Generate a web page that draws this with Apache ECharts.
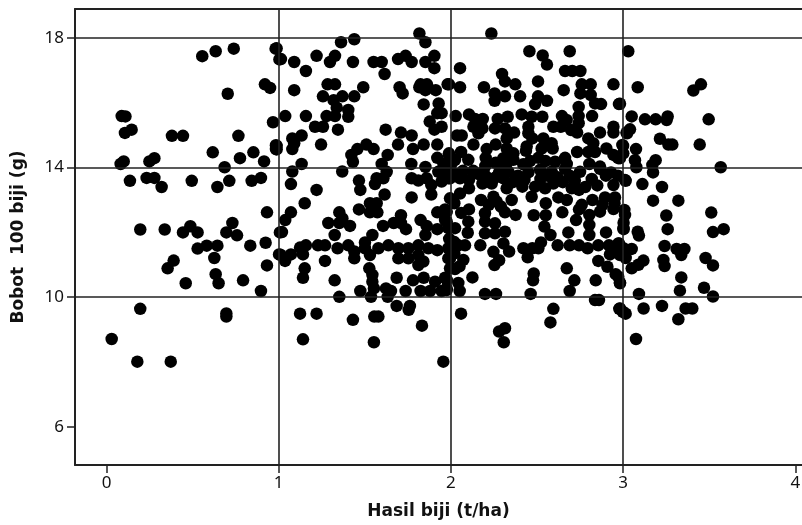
<!DOCTYPE html>
<html><head><meta charset="utf-8">
<style>html,body{margin:0;padding:0;background:#fff}#c{width:802px;height:525px}</style>
<script src="https://cdn.jsdelivr.net/npm/echarts@6/dist/echarts.min.js"></script></head>
<body><div id="c"></div>
<script>
const xTicks=[0,1,2,3,4];
const yTicks=[6,10,14,18];
const xGridValues=[1,2,3];
const yGridValues=[10,14,18];
const regionA=[[.556,17.44],[.634,17.59],[.739,17.67],[.982,17.67],[1.004,17.34],[.704,16.28],[.92,16.57],[.95,16.46],[.088,15.59],[.11,15.58],[.107,15.07],[.146,15.17],[.38,14.98],[.444,14.98],[.766,14.98],[.967,15.4],[.984,14.69],[.984,14.57],[.617,14.47],[.853,14.47],[.775,14.29],[.915,14.19],[.082,14.11],[.10,14.19],[.249,14.19],[.278,14.29],[.686,14.01]];
const regionB=[[.136,13.59],[.233,13.68],[.278,13.68],[.32,13.4],[.495,13.59],[.644,13.4],[.713,13.59],[.843,13.59],[.897,13.68],[.932,12.62],[.196,12.09],[.338,12.09],[.444,12.0],[.487,12.19],[.529,12.0],[.731,12.29],[.696,12.0],[.758,11.91],[.835,11.59],[.924,11.68],[.529,11.5],[.582,11.59],[.644,11.59],[.626,11.21],[1.01,11.31],[1.007,12.0],[.39,11.13],[.355,10.89],[.932,10.98],[.634,10.71],[.651,10.43],[.46,10.43],[.793,10.52],[.897,10.19],[.196,9.64],[.696,9.5],[.696,9.4],[.03,8.71],[.179,8.01],[.373,8.01]];
const regionC=[[1.439,17.96],[1.362,17.87],[1.817,18.14],[1.852,17.87],[.988,17.68],[1.013,17.35],[1.09,17.26],[1.22,17.45],[1.158,16.98],[1.327,17.45],[1.298,17.26],[1.431,17.26],[1.551,17.26],[1.598,17.26],[1.615,16.89],[1.693,17.35],[1.737,17.45],[1.772,17.26],[1.852,17.26],[1.904,17.45],[1.904,17.07],[1.09,16.39],[1.284,16.57],[1.327,16.57],[1.257,16.2],[1.319,16.08],[1.37,16.2],[1.439,16.2],[1.491,16.48],[1.337,15.85],[1.038,15.59],[1.158,15.59],[1.278,15.59],[1.327,15.59],[1.404,15.78],[1.404,15.57],[1.211,15.26],[1.257,15.26],[1.344,15.17],[1.621,15.17],[1.702,16.48],[1.72,16.29],[1.824,16.57],[1.861,16.57],[1.817,16.48],[1.852,16.39],[1.912,16.39],[1.981,16.57],[1.842,15.95],[1.929,15.98],[1.921,15.68],[1.946,15.68],[1.877,15.42],[1.904,15.17],[1.946,15.26],[1.71,15.08],[1.772,14.99],[1.693,14.71],[1.78,14.57],[1.842,14.71],[1.921,14.71],[1.921,14.3],[1.989,14.44],[1.133,14.99],[1.079,14.9],[1.09,14.75],[1.079,14.57],[.988,14.67],[.988,14.56],[1.246,14.71],[1.457,14.57],[1.509,14.71],[1.551,14.57],[1.422,14.39],[1.431,14.18],[1.633,14.39],[1.598,14.11],[1.77,14.11],[1.852,14.02],[1.133,14.11],[1.369,13.88],[1.079,13.88],[1.956,14.13],[2.004,14.13]];
const regionD=[[1.071,13.49],[1.22,13.31],[1.466,13.6],[1.474,13.31],[1.569,13.67],[1.559,13.49],[1.627,13.87],[1.608,13.67],[1.615,13.17],[1.772,13.08],[1.772,13.67],[1.811,13.6],[1.859,13.67],[1.886,13.46],[1.886,13.17],[1.946,13.57],[1.985,13.67],[1.927,13.87],[1.966,13.87],[1.151,12.9],[1.071,12.62],[1.038,12.38],[1.019,12.01],[1.352,12.62],[1.37,12.43],[1.288,12.29],[1.352,12.29],[1.414,12.2],[1.325,11.92],[1.466,12.71],[1.53,12.9],[1.569,12.9],[1.53,12.62],[1.573,12.62],[1.606,12.2],[1.668,12.29],[1.71,12.53],[1.71,12.29],[1.739,12.1],[1.824,12.38],[1.859,12.2],[1.852,11.92],[1.921,12.62],[1.966,12.71],[1.921,12.1],[1.966,12.38],[1.985,12.13],[1.544,11.92],[1.501,11.69],[1.002,11.32],[1.037,11.12],[1.071,11.32],[1.124,11.53],[1.158,11.6],[1.141,11.32],[1.151,10.89],[1.141,10.6],[1.228,11.6],[1.269,11.6],[1.269,11.12],[1.342,11.51],[1.404,11.6],[1.439,11.41],[1.439,11.2],[1.501,11.51],[1.53,11.3],[1.526,10.89],[1.544,10.69],[1.544,10.48],[1.553,10.27],[1.579,11.51],[1.637,11.6],[1.695,11.51],[1.753,11.51],[1.811,11.6],[1.869,11.51],[1.921,11.45],[1.985,11.51],[1.695,11.2],[1.753,11.2],[1.811,11.3],[1.84,11.1],[1.811,10.99],[1.985,11.2],[1.995,10.89],[1.325,10.52],[1.685,10.6],[1.78,10.52],[1.842,10.6],[1.966,10.6],[1.908,10.48],[1.474,10.19],[1.352,10.01],[1.536,10.01],[1.623,10.27],[1.652,10.19],[1.633,10.01],[1.737,10.19],[1.824,10.19],[1.879,10.19],[1.946,10.19],[1.975,10.27],[1.685,9.73],[1.762,9.73],[1.755,9.61],[1.124,9.49],[1.22,9.49],[1.431,9.3],[1.555,9.4],[1.579,9.4],[1.832,9.12],[1.141,8.7],[1.553,8.61],[1.956,8.01]];
const regionE=[[2.235,18.14],[2.456,17.59],[2.533,17.46],[2.558,17.18],[2.69,17.59],[2.663,16.98],[2.705,16.98],[2.752,16.98],[2.053,17.07],[1.989,16.57],[2.053,16.48],[2.192,16.48],[2.297,16.89],[2.314,16.66],[2.374,16.57],[2.254,16.29],[2.314,16.2],[2.254,16.06],[2.402,16.2],[2.506,16.66],[2.506,16.2],[2.489,15.96],[2.558,16.06],[2.655,16.39],[2.76,16.57],[2.812,16.57],[2.752,16.29],[2.812,16.24],[2.837,15.98],[2.872,15.96],[2.944,16.57],[2.976,15.96],[2.742,15.87],[2.742,15.59],[2.82,15.59],[2.742,15.37],[2.698,15.16],[2.733,15.08],[2.645,15.59],[2.672,15.47],[2.595,15.26],[2.638,15.26],[2.944,15.26],[2.944,15.08],[3.02,15.08],[2.028,15.59],[2.105,15.64],[2.14,15.5],[2.185,15.5],[2.131,15.26],[2.183,15.21],[2.16,15.06],[2.272,15.5],[2.33,15.57],[2.411,15.64],[2.469,15.57],[2.531,15.57],[2.256,15.21],[2.314,15.21],[2.367,15.08],[2.45,15.26],[2.45,15.06],[2.473,14.9],[2.537,14.9],[2.585,14.75],[2.591,14.59],[2.527,14.59],[2.508,14.3],[2.44,14.65],[2.436,14.52],[2.324,14.9],[2.26,14.71],[2.208,14.57],[2.202,14.3],[2.131,14.71],[2.036,14.99],[2.063,14.99],[1.989,14.39],[2.059,14.48],[2.101,14.24],[2.024,14.24],[2.324,14.59],[2.363,14.44],[2.305,14.29],[2.363,14.24],[2.324,14.13],[2.798,14.9],[2.866,15.08],[2.827,14.75],[2.733,14.48],[2.798,14.48],[2.837,14.48],[2.903,14.59],[2.944,14.39],[2.982,14.29],[3.0,14.67],[2.804,14.11],[2.866,14.03],[2.663,14.3],[2.605,14.18],[2.673,14.11],[2.518,13.93]];
const regionF=[[1.995,13.67],[2.053,13.67],[2.105,13.62],[2.053,13.2],[2.105,13.36],[2.175,13.0],[2.189,13.87],[2.183,13.51],[2.237,13.51],[2.334,13.87],[2.305,13.67],[2.324,13.36],[2.353,13.0],[2.247,13.1],[2.266,12.95],[2.427,13.62],[2.415,13.41],[2.469,13.1],[2.489,13.41],[2.547,13.36],[2.585,13.87],[2.595,13.51],[2.663,13.96],[2.624,13.08],[2.673,13.0],[2.702,13.36],[2.744,13.31],[2.75,13.87],[2.818,13.65],[2.866,13.96],[2.944,13.46],[2.895,13.08],[2.953,13.08],[2.822,13.0],[3.011,13.62],[2.551,12.9],[2.481,12.53],[2.551,12.53],[2.647,12.62],[2.744,12.71],[2.727,12.38],[2.105,12.71],[2.198,12.59],[2.314,12.62],[2.376,12.54],[2.198,12.33],[2.256,12.28],[2.198,11.97],[2.256,11.97],[2.314,12.02],[2.101,12.33],[2.098,11.99],[2.024,12.13],[1.976,12.64],[1.976,12.33],[2.543,12.18],[2.578,11.92],[2.682,12.0],[2.804,12.54],[2.866,12.64],[2.944,12.72],[2.804,12.23],[2.804,11.92],[2.901,12.0],[3.011,12.54],[3.002,12.13],[2.523,11.69],[2.62,11.6],[2.69,11.6],[2.744,11.6],[2.794,11.51],[2.856,11.6],[2.918,11.6],[2.973,11.66],[3.002,11.51],[2.924,11.32],[2.982,11.3],[2.421,11.51],[2.473,11.51],[2.508,11.51],[2.446,11.23],[2.171,11.6],[2.247,11.4],[2.305,11.66],[2.338,11.41],[2.082,11.6],[2.043,11.6],[1.995,11.51],[2.072,11.15],[1.995,11.2],[2.28,11.14],[2.253,10.99],[2.024,10.87],[2.856,11.12],[2.909,10.94],[2.957,10.71],[2.982,10.45],[2.673,10.89],[2.717,10.52],[2.841,10.52],[2.481,10.73],[2.477,10.52],[2.125,10.61],[2.043,10.44],[2.051,10.19],[1.976,10.53],[1.976,10.22],[2.198,10.1],[2.262,10.1],[2.463,10.1],[2.69,10.19],[2.837,9.91],[2.86,9.91],[2.978,9.64],[2.998,9.55],[2.595,9.64],[2.578,9.22],[2.059,9.49],[2.28,8.94],[2.314,9.04],[2.307,8.61]];
const regionG=[[3.03,17.59],[3.085,16.48],[3.452,16.57],[3.408,16.38],[2.982,15.97],[3.05,15.58],[3.127,15.49],[3.189,15.49],[3.259,15.58],[3.253,15.47],[3.497,15.49],[3.04,15.18],[3.023,15.06],[3.214,14.89],[3.263,14.71],[3.286,14.71],[3.445,14.71],[2.996,14.7],[3.075,14.57],[3.001,14.44],[3.069,14.23],[2.972,14.29],[3.189,14.23],[3.17,14.08],[3.077,14.01],[3.174,13.85],[3.567,14.01],[3.015,13.59],[3.112,13.49],[3.226,13.4],[3.174,12.98],[3.321,12.98],[3.007,12.69],[3.251,12.52],[3.512,12.61],[3.003,12.3],[3.003,12.1],[3.085,12.02],[3.092,11.9],[3.259,12.1],[3.522,12.01],[3.584,12.1],[3.241,11.58],[3.05,11.49],[2.976,11.66],[2.976,11.51],[3.311,11.49],[3.356,11.49],[3.338,11.3],[3.479,11.21],[3.522,10.98],[3.015,11.21],[3.234,11.15],[3.241,10.96],[3.118,11.13],[3.089,11.0],[3.05,10.89],[3.338,10.61],[2.972,10.63],[2.982,10.43],[3.33,10.2],[3.47,10.29],[3.522,10.02],[3.092,10.1],[3.119,9.65],[3.226,9.73],[3.363,9.65],[3.402,9.65],[3.321,9.32],[2.982,9.65],[3.015,9.49],[3.075,8.71]];
const regionCore=[[1.99,13.95],[2.03,13.8],[2.07,13.9],[2.13,13.9],[2.16,13.8],[2.21,13.7],[2.26,13.7],[2.28,13.85],[2.36,13.55],[2.39,13.75],[2.45,13.85],[2.52,13.65],[2.56,13.75],[2.62,13.7],[2.65,13.55],[2.69,13.75],[2.72,13.6],[2.78,13.4],[2.85,13.45],[2.9,13.75],[2.93,13.85],[2.97,13.75],[2.2,14.05],[2.26,14.15],[2.29,14.05],[2.42,14.1],[2.46,14.2],[2.55,14.2],[2.22,12.85],[2.29,12.8],[2.76,12.85],[2.88,12.85],[2.95,12.9],[1.995,13.05],[2.02,12.9],[2.06,12.6],[1.99,11.8],[2.02,11.7],[2.05,10.95],[2.02,11.35]];
const points=[].concat(regionA,regionB,regionC,regionD,regionE,regionF,regionG,regionCore);
const titleFont='"DejaVu Sans"';
const tickFont='"Noto Sans"';
const axisLine={show:true,onZero:false,lineStyle:{color:'#222',width:2}};
const xMin=-0.183,xMax=4.039,yMin=4.82,yMax=18.895;
const chart=echarts.init(document.getElementById('c'),null,{renderer:'canvas'});
chart.setOption({
 animation:false,
 backgroundColor:'#fff',
 grid:{left:75,right:0,top:9,bottom:60,show:false,outerBoundsMode:'none'},
 xAxis:[{type:'value',min:xMin,max:xMax,
  name:'Hasil biji (t/ha)',nameLocation:'middle',nameGap:38,
  nameTextStyle:{fontFamily:titleFont,fontWeight:'bold',fontSize:17,color:'#111'},
  axisLine,splitLine:{show:false},
  axisTick:{show:true,customValues:xTicks,length:8,lineStyle:{color:'#222',width:1.5}},
  axisLabel:{customValues:xTicks,showMinLabel:true,showMaxLabel:true,fontFamily:tickFont,fontSize:17,color:'#111',margin:10,formatter:v=>String(v)}},
  {type:'value',position:'top',min:xMin,max:xMax,axisLine,axisTick:{show:false},axisLabel:{show:false},splitLine:{show:false}}],
 yAxis:{type:'value',min:yMin,max:yMax,
  name:'Bobot  100 biji (g)',nameLocation:'middle',nameGap:48,nameRotate:90,
  nameTextStyle:{fontFamily:titleFont,fontWeight:'bold',fontSize:17,color:'#111'},
  axisLine,splitLine:{show:false},
  axisTick:{show:true,customValues:yTicks,length:8,lineStyle:{color:'#222',width:1.5}},
  axisLabel:{customValues:yTicks,fontFamily:tickFont,fontSize:17,color:'#111',margin:11,formatter:v=>String(v)}},
 series:[
  {type:'scatter',data:points,symbol:'circle',symbolSize:12.5,itemStyle:{color:'#000',opacity:1},
   markLine:{silent:true,symbol:'none',animation:false,label:{show:false},lineStyle:{color:'#222',width:1.6,type:'solid'},
    data:xGridValues.map(v=>({xAxis:v})).concat(yGridValues.map(v=>({yAxis:v})))}}
 ]
});
</script></body></html>
